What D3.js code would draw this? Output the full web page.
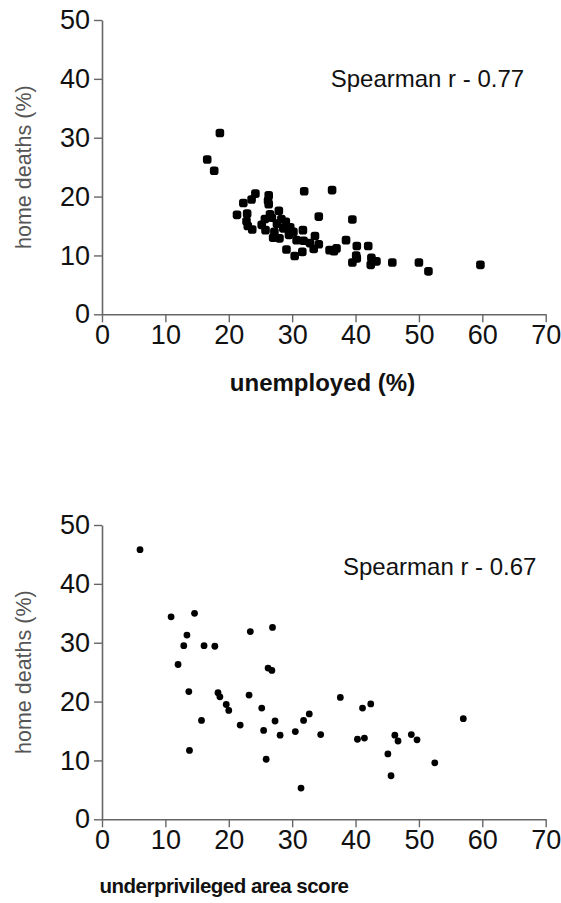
<!DOCTYPE html>
<html>
<head>
<meta charset="utf-8">
<script src="https://cdn.jsdelivr.net/npm/d3@7"></script>
<style>
  html, body { margin: 0; padding: 0; background: #fff; }
  svg { display: block; }
  text { font-family: "Liberation Sans", Arial, Helvetica, sans-serif; }
</style>
</head>
<body>
<svg id="chart" width="561" height="903"></svg>
<script>
// ---------- data ----------
const xTicks = [0, 10, 20, 30, 40, 50, 60, 70];
const yTicks = [0, 10, 20, 30, 40, 50];

const unemployedX = [18.6,16.6,17.7,31.9,36.3,24.2,26.3,23.6,22.3,26.3,26.2,27.9,21.3,22.9,34.2,39.5,
  22.8,25.7,26.8,23.0,23.7,25.8,27.6,29.0,26.5,28.3,27.0,28.0,28.6,29.7,30.2,31.7,30.7,31.8,33.6,32.8,
  29.1,30.4,31.6,33.4,34.2,35.9,36.6,37.0,38.5,40.2,42.0,40.1,40.2,39.5,42.5,42.4,43.3,45.8,50.0,51.5,59.7,
  25.2,27.2,29.5];
const homeDeathsA = [30.8,26.3,24.4,20.9,21.1,20.5,20.2,19.5,18.9,18.7,19.3,17.6,16.9,17.1,16.6,16.1,
  15.8,16.2,16.4,15.0,14.4,14.3,15.4,15.7,17.0,16.2,13.0,12.9,14.6,14.8,14.0,14.3,12.6,12.5,13.3,12.1,
  11.0,9.9,10.6,11.1,11.9,10.9,10.7,11.2,12.6,11.6,11.6,10.0,9.5,8.8,9.6,8.4,9.0,8.8,8.8,7.3,8.4,
  15.2,14.0,13.5];

const upaScoreX = [6.0,10.9,14.6,13.4,12.9,16.1,17.8,12.0,23.4,26.9,26.2,26.8,13.7,18.3,18.6,23.2,19.6,20.0,
  25.2,15.7,21.8,27.3,25.5,28.1,30.5,31.8,32.7,34.5,13.8,25.9,31.4,37.6,41.1,42.4,57.0,40.3,41.4,46.2,46.7,
  48.8,49.7,45.1,45.6,52.5];
const homeDeathsB = [45.8,34.4,35.0,31.3,29.5,29.5,29.4,26.3,31.9,32.6,25.7,25.3,21.7,21.5,20.8,21.1,19.5,18.5,
  18.9,16.8,16.0,16.7,15.1,14.3,14.9,16.8,17.9,14.4,11.7,10.2,5.3,20.7,18.9,19.6,17.1,13.6,13.8,14.3,13.3,
  14.4,13.5,11.1,7.4,9.6];

const panels = [
  { xs: unemployedX, ys: homeDeathsA, xTitle: "unemployed (%)", note: "Spearman r - 0.77",
    top: 20, bottom: 314.3, noteX: 330.7, noteY: 87, marker: "square",
    titleX: 322.5, titleY: 391, titleSize: 24, titleSpacing: 0 },
  { xs: upaScoreX, ys: homeDeathsB, xTitle: "underprivileged area score", note: "Spearman r - 0.67",
    top: 525, bottom: 819.3, noteX: 343, noteY: 575, marker: "circle",
    titleX: 224, titleY: 893, titleSize: 20.5, titleSpacing: -0.5 }
];

// ---------- drawing ----------
const svg = d3.select("#chart");
const left = 102, right = 545.7;
const axisColor = "#666";

panels.forEach(p => {
  const x = d3.scaleLinear().domain([0, 70]).range([left, right]);
  const y = d3.scaleLinear().domain([0, 50]).range([p.bottom, p.top]);
  const g = svg.append("g");

  const xa = g.append("g").attr("transform", `translate(0,${p.bottom})`)
    .call(d3.axisBottom(x).tickValues(xTicks).tickSize(8).tickSizeOuter(0).tickPadding(3));
  const ya = g.append("g").attr("transform", `translate(${left},0)`)
    .call(d3.axisLeft(y).tickValues(yTicks).tickSize(8).tickSizeOuter(0).tickPadding(4));

  [xa, ya].forEach(a => {
    a.select(".domain").attr("stroke", axisColor).attr("stroke-width", 1.6);
    a.selectAll(".tick line").attr("stroke", axisColor).attr("stroke-width", 1.4);
    a.selectAll(".tick text").attr("fill", "#111").style("font-size", "27px")
      .style("font-family", "'Liberation Sans', Arial, sans-serif");
  });

  // y title
  g.append("text")
    .attr("transform", `translate(31,${(p.top + p.bottom) / 2}) rotate(-90)`)
    .attr("text-anchor", "middle")
    .attr("fill", "#555")
    .style("font-size", "21.5px")
    .text("home deaths (%)");

  // x title
  g.append("text")
    .attr("x", p.titleX).attr("y", p.titleY)
    .attr("text-anchor", "middle")
    .attr("fill", "#111")
    .style("font-size", p.titleSize + "px").style("font-weight", "bold")
    .style("letter-spacing", p.titleSpacing + "px")
    .text(p.xTitle);

  // annotation
  g.append("text")
    .attr("x", p.noteX).attr("y", p.noteY)
    .attr("fill", "#111")
    .style("font-size", "24px")
    .text(p.note);

  const pts = p.xs.map((v, i) => ({ x: v, y: p.ys[i] }));
  if (p.marker === "square") {
    g.selectAll("rect.pt").data(pts).join("rect").attr("class", "pt")
      .attr("x", d => x(d.x) - 4.3).attr("y", d => y(d.y) - 4.3)
      .attr("width", 8.6).attr("height", 8.6).attr("rx", 2.8)
      .attr("fill", "#000");
  } else {
    g.selectAll("circle.pt").data(pts).join("circle").attr("class", "pt")
      .attr("cx", d => x(d.x)).attr("cy", d => y(d.y)).attr("r", 3.4)
      .attr("fill", "#000");
  }
});
</script>
</body>
</html>
